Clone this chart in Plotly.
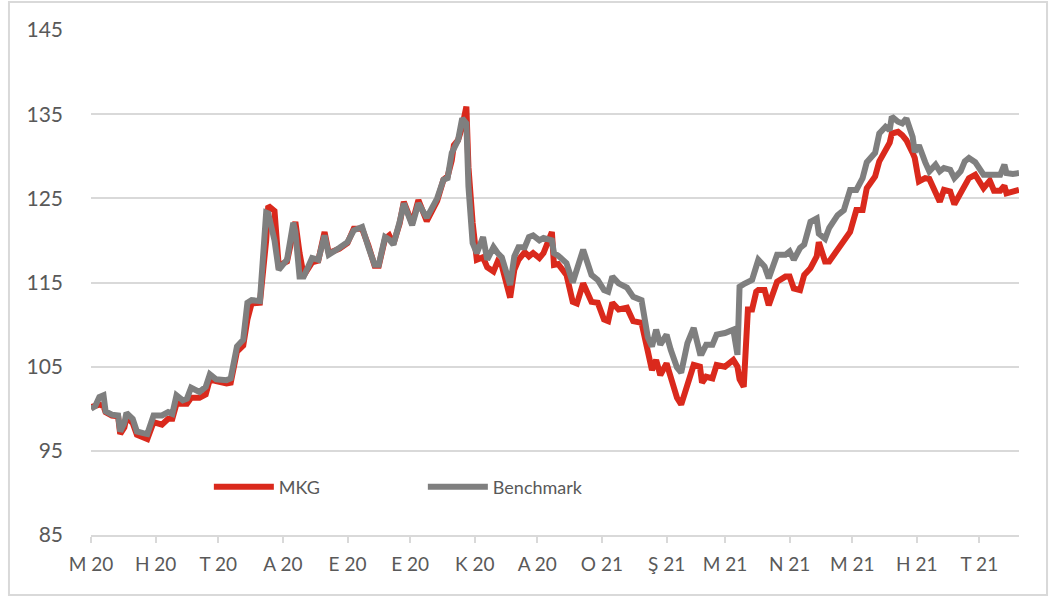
import plotly.graph_objects as go

dates = [
    "2020-05-01", "2020-05-03", "2020-05-05", "2020-05-07", "2020-05-08", "2020-05-11", "2020-05-14", "2020-05-15",
    "2020-05-17", "2020-05-18", "2020-05-21", "2020-05-23", "2020-05-26", "2020-05-28", "2020-05-31", "2020-06-04",
    "2020-06-07", "2020-06-09", "2020-06-11", "2020-06-14", "2020-06-16", "2020-06-18", "2020-06-22", "2020-06-25",
    "2020-06-27", "2020-06-30", "2020-07-05", "2020-07-07", "2020-07-10", "2020-07-13", "2020-07-15", "2020-07-17",
    "2020-07-21", "2020-07-24", "2020-07-25", "2020-07-28", "2020-07-30", "2020-08-03", "2020-08-06", "2020-08-07",
    "2020-08-09", "2020-08-11", "2020-08-15", "2020-08-18", "2020-08-21", "2020-08-23", "2020-08-28", "2020-09-01",
    "2020-09-04", "2020-09-08", "2020-09-11", "2020-09-14", "2020-09-16", "2020-09-19", "2020-09-21", "2020-09-23",
    "2020-09-26", "2020-09-28", "2020-10-02", "2020-10-05", "2020-10-09", "2020-10-14", "2020-10-17", "2020-10-19",
    "2020-10-21", "2020-10-22", "2020-10-24", "2020-10-26", "2020-10-28", "2020-10-29", "2020-10-31", "2020-11-02",
    "2020-11-05", "2020-11-07", "2020-11-10", "2020-11-12", "2020-11-14", "2020-11-18", "2020-11-20", "2020-11-22",
    "2020-11-25", "2020-11-27", "2020-11-29", "2020-12-02", "2020-12-04", "2020-12-08", "2020-12-09", "2020-12-11",
    "2020-12-15", "2020-12-18", "2020-12-20", "2020-12-23", "2020-12-27", "2020-12-30", "2021-01-02", "2021-01-04",
    "2021-01-06", "2021-01-09", "2021-01-13", "2021-01-16", "2021-01-20", "2021-01-23", "2021-01-25", "2021-01-27",
    "2021-01-29", "2021-02-01", "2021-02-03", "2021-02-06", "2021-02-08", "2021-02-11", "2021-02-14", "2021-02-17",
    "2021-02-18", "2021-02-20", "2021-02-23", "2021-02-25", "2021-03-01", "2021-03-05", "2021-03-07", "2021-03-08",
    "2021-03-10", "2021-03-12", "2021-03-14", "2021-03-16", "2021-03-17", "2021-03-20", "2021-03-22", "2021-03-26",
    "2021-03-30", "2021-04-01", "2021-04-03", "2021-04-06", "2021-04-08", "2021-04-11", "2021-04-14", "2021-04-15",
    "2021-04-18", "2021-04-20", "2021-04-24", "2021-04-27", "2021-04-30", "2021-05-03", "2021-05-06", "2021-05-08",
    "2021-05-12", "2021-05-14", "2021-05-17", "2021-05-19", "2021-05-20", "2021-05-23", "2021-05-25", "2021-05-27",
    "2021-05-30", "2021-05-31", "2021-06-02", "2021-06-05", "2021-06-07", "2021-06-10", "2021-06-12", "2021-06-14",
    "2021-06-17", "2021-06-19", "2021-06-22", "2021-06-24", "2021-06-26", "2021-06-29", "2021-07-01", "2021-07-03",
    "2021-07-06", "2021-07-08", "2021-07-11", "2021-07-13", "2021-07-14", "2021-07-17", "2021-07-20",
]

mkg = [
    100.2, 100.4, 100.5, 100.3, 99.6, 99.2, 99.1, 97.0,
    97.8, 99.0, 98.3, 96.9, 96.7, 96.4, 98.4, 98.1,
    98.8, 98.8, 100.6, 100.6, 100.6, 101.3, 101.3, 101.7,
    103.5, 103.3, 103.0, 103.1, 106.8, 107.5, 110.6, 112.5,
    112.6, 120.0, 124.1, 123.5, 117.0, 117.5, 120.5, 122.2,
    118.5, 115.8, 117.4, 117.6, 121.0, 118.5, 119.0, 119.7,
    121.4, 121.4, 119.4, 117.0, 117.0, 120.2, 120.6, 119.6,
    122.0, 124.6, 122.0, 124.8, 122.3, 124.7, 127.2, 127.6,
    129.5, 131.3, 131.9, 133.5, 135.9, 128.7, 122.1, 117.7,
    118.0, 116.8, 116.3, 117.5, 117.0, 113.2, 116.5, 117.7,
    118.6, 118.1, 118.5, 117.9, 118.5, 121.0, 117.1, 117.2,
    115.9, 112.7, 112.5, 114.9, 112.7, 112.6, 110.6, 110.4,
    112.6, 111.8, 112.0, 110.4, 110.2, 107.0, 104.6, 105.8,
    104.0, 105.4, 103.7, 101.3, 100.5, 102.6, 105.2, 105.0,
    103.1, 103.8, 103.6, 105.2, 105.0, 105.8, 105.0, 103.5,
    102.6, 111.8, 111.8, 113.9, 114.1, 114.1, 112.3, 115.1,
    115.7, 115.7, 114.3, 114.1, 115.9, 116.7, 118.1, 119.8,
    117.5, 117.5, 118.9, 120.2, 121.0, 123.6, 123.6, 126.2,
    127.6, 129.4, 130.7, 131.6, 132.7, 132.9, 132.5, 131.9,
    130.4, 129.8, 127.0, 127.4, 127.3, 125.5, 124.6, 126.0,
    125.8, 124.3, 125.6, 126.6, 127.4, 127.8, 127.0, 126.2,
    127.1, 125.9, 125.9, 126.5, 125.6, 125.8, 126.0,
]

benchmark = [
    100.0, 100.3, 101.4, 101.6, 99.7, 99.3, 99.2, 97.3,
    98.3, 99.5, 98.8, 97.3, 97.1, 97.0, 99.2, 99.2,
    99.6, 99.4, 101.6, 101.0, 101.2, 102.5, 102.0, 102.6,
    104.1, 103.5, 103.4, 103.6, 107.4, 108.2, 112.6, 112.9,
    112.8, 123.3, 123.2, 120.0, 116.5, 117.7, 122.1, 121.0,
    115.7, 115.7, 117.9, 117.7, 120.6, 118.3, 119.1, 119.8,
    121.2, 121.6, 119.2, 117.1, 117.1, 120.4, 120.1, 119.5,
    122.2, 124.4, 121.8, 124.4, 122.7, 125.0, 127.2, 127.4,
    130.4, 131.0, 131.9, 134.5, 133.9, 126.4, 119.7, 118.5,
    120.4, 117.7, 119.2, 118.5, 118.0, 114.7, 118.1, 119.2,
    119.2, 120.4, 120.6, 120.0, 120.3, 120.0, 118.5, 118.2,
    117.3, 115.0, 116.8, 118.9, 115.9, 115.3, 114.1, 113.9,
    115.7, 114.9, 114.4, 113.3, 112.9, 108.5, 107.4, 109.4,
    107.6, 108.8, 107.0, 104.9, 104.3, 107.8, 109.6, 106.6,
    106.6, 107.6, 107.6, 108.8, 109.0, 109.4, 106.4, 114.5,
    114.8, 115.1, 115.3, 116.9, 117.7, 116.9, 115.5, 118.3,
    118.3, 118.7, 117.7, 119.1, 119.5, 122.2, 122.6, 120.8,
    120.2, 121.5, 123.0, 123.6, 126.0, 126.0, 127.4, 129.3,
    130.4, 132.7, 133.5, 133.1, 134.7, 134.1, 133.9, 134.5,
    132.3, 130.5, 131.3, 129.3, 128.2, 129.0, 128.2, 128.6,
    128.4, 127.4, 128.2, 129.4, 129.8, 129.3, 128.4, 127.8,
    127.8, 127.8, 127.8, 129.0, 128.0, 127.9, 128.0,
]

tick_dates = [
    "2020-05-01", "2020-06-01", "2020-07-01", "2020-08-01", "2020-09-01", "2020-10-01", "2020-11-01",
    "2020-12-01", "2021-01-01", "2021-02-01", "2021-03-01", "2021-04-01", "2021-05-01", "2021-06-01",
    "2021-07-01",
]
tick_labels = ["M 20", "H 20", "T 20", "A 20", "E 20", "E 20", "K 20", "A 20", "O 21", "Ş 21",
               "M 21", "N 21", "M 21", "H 21", "T 21"]
y_ticks = [85, 95, 105, 115, 125, 135, 145]

RED = "#DA291C"
GRAY = "#7F7F7F"
GRID = "#D9D9D9"
TXT = "#595959"
FONT = "Lato, 'Open Sans', sans-serif"

fig = go.Figure()
fig.add_trace(go.Scatter(x=dates, y=mkg, mode="lines", name="MKG",
                         line=dict(color=RED, width=6)))
fig.add_trace(go.Scatter(x=dates, y=benchmark, mode="lines", name="Benchmark",
                         line=dict(color=GRAY, width=6)))

fig.update_layout(
    width=1051, height=598,
    margin=dict(l=91, r=32, t=30, b=63, autoexpand=False),
    paper_bgcolor="white", plot_bgcolor="white",
    font=dict(family=FONT, size=18, color=TXT),
    showlegend=True,
    legend=dict(orientation="h", x=0.127, y=0.095, xanchor="left", yanchor="middle",
                bgcolor="rgba(0,0,0,0)", font=dict(size=18, color=TXT),
                itemwidth=60,
                entrywidth=139, entrywidthmode="pixels"),
    xaxis=dict(
        type="date", range=["2020-05-01", "2021-07-20"],
        tickmode="array", tickvals=tick_dates, ticktext=tick_labels,
        showgrid=False, showline=True, linecolor=GRID, linewidth=2,
        ticks="outside", ticklen=6, tickcolor=GRID, tickwidth=2,
        ticklabelstandoff=5, zeroline=False, automargin=False,
        tickfont=dict(size=19, color=TXT),
    ),
    yaxis=dict(
        range=[85, 145], tickmode="array", tickvals=y_ticks,
        showgrid=True, gridcolor=GRID, gridwidth=2,
        showline=False, zeroline=False, ticks="", automargin=False,
        ticklabelstandoff=27,
        tickfont=dict(size=21, color=TXT),
    ),
    shapes=[dict(type="rect", xref="paper", yref="paper",
                 x0=-0.0884, x1=1.0302, y0=-0.1188, y1=1.0554,
                 line=dict(color=GRID, width=2), fillcolor="rgba(0,0,0,0)", layer="below")],
)

fig.write_html("out.html", config={"displayModeBar": False},
               post_script="document.body.style.margin='0';")
